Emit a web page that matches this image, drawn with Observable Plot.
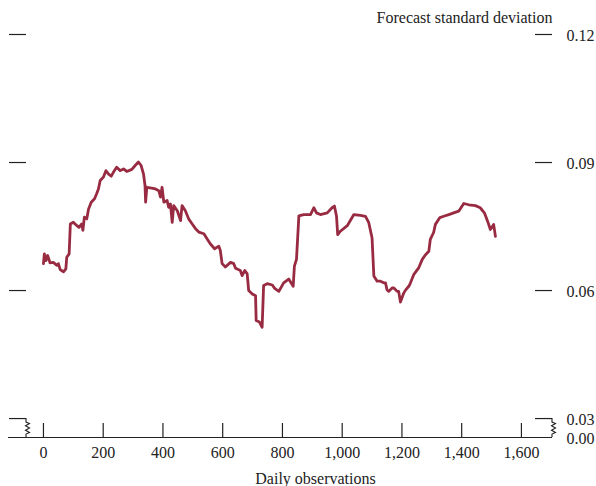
<!DOCTYPE html>
<html><head><meta charset="utf-8">
<script src="https://cdn.jsdelivr.net/npm/d3@7"></script>
<script src="https://cdn.jsdelivr.net/npm/@observablehq/plot@0.6"></script>
<style>body{margin:0;background:#fff} #chart svg{display:block}</style>
</head><body><div id="chart"></div>
<script>
const days = [0,3,8,14,22,33,45,50,56,67,75,78,86,90,100,112,119,128,132,137,145,151,160,171,178,184,190,201,209,218,227,234,245,257,268,279,296,307,318,327,335,340,342,346,362,375,386,392,397,403,414,419,425,431,436,448,459,464,475,486,498,509,520,537,548,559,573,587,592,598,609,626,637,643,659,665,674,682,687,699,710,712,723,732,737,749,766,774,788,804,821,836,840,847,855,871,894,905,914,927,950,966,974,981,985,994,1017,1039,1061,1078,1089,1100,1106,1117,1128,1139,1145,1150,1156,1167,1173,1184,1189,1195,1206,1212,1223,1228,1240,1256,1268,1279,1290,1295,1306,1312,1327,1340,1357,1373,1390,1407,1424,1446,1462,1476,1487,1496,1507,1513];
const sd = [0.0663,0.0686,0.067,0.0682,0.0665,0.0666,0.0659,0.0663,0.0649,0.0644,0.0651,0.0678,0.0686,0.0756,0.076,0.0752,0.0748,0.0756,0.0741,0.0772,0.0768,0.0791,0.0807,0.0815,0.0827,0.0838,0.0858,0.0866,0.0881,0.0873,0.0868,0.0877,0.0889,0.0881,0.0885,0.0879,0.0884,0.0893,0.0901,0.0893,0.0873,0.0846,0.0807,0.0842,0.084,0.0838,0.0834,0.0819,0.0842,0.0807,0.0811,0.0795,0.0803,0.076,0.0799,0.0787,0.0764,0.0799,0.0787,0.0768,0.0756,0.0745,0.0737,0.0733,0.0721,0.0709,0.0698,0.0704,0.0694,0.0663,0.0655,0.0666,0.0663,0.0652,0.0647,0.0635,0.0647,0.0639,0.06,0.0592,0.0588,0.053,0.0526,0.0514,0.0612,0.0616,0.0613,0.0605,0.0598,0.0618,0.0627,0.061,0.0657,0.0673,0.0775,0.0778,0.0778,0.0794,0.0782,0.0778,0.0782,0.0794,0.0798,0.0774,0.0731,0.0739,0.0752,0.0778,0.0776,0.0774,0.0759,0.0723,0.0634,0.0622,0.0622,0.0618,0.0618,0.0602,0.0598,0.0606,0.0606,0.0598,0.0598,0.0573,0.0594,0.0601,0.061,0.0617,0.0638,0.0653,0.0673,0.0684,0.0692,0.072,0.0736,0.0755,0.0771,0.0774,0.0778,0.0782,0.0786,0.0804,0.0801,0.0799,0.0794,0.0782,0.0762,0.0743,0.0755,0.0727];
const xTicks = [0,200,400,600,800,1000,1200,1400,1600];
const yTicks = [0.03,0.06,0.09,0.12];
const yLabels = [0,0.03,0.06,0.09,0.12];
const titleText = "Forecast standard deviation";
const xTitle = "Daily observations";

// broken y axis: the interval 0 .. 0.03 is squeezed into a short gap
const breakAt = 0.03, squeeze = 0.148;
const brk = v => v >= breakAt ? v : breakAt - (breakAt - v) * squeeze;

const data = days.map((d,i)=>({day:d, sd:sd[i]}));
const W=596, H=486, mL=8, mR=44, mT=34, mB=49;
const frameW = W-mL-mR, frameH = H-mT-mB;
const ink = "#222";
const font = "'Liberation Serif','Times New Roman',serif";

function breaks(index, scales) {
  const g = d3.create("svg:g").attr("fill","none").attr("stroke",ink).attr("stroke-width",1.1);
  const y0 = scales.y(brk(0)), y3 = scales.y(breakAt);
  const zig = (x) => {
    const m = (y0+y3)/2 + 0.5, p = d3.path();
    p.moveTo(x, y3); p.lineTo(x, m-6);
    p.lineTo(x+3.5, m-4.5); p.lineTo(x-0.5, m-2.2);
    p.lineTo(x+3.5, m); p.lineTo(x-0.5, m+2.2);
    p.lineTo(x+3.5, m+4.5); p.lineTo(x, m+6);
    p.lineTo(x, y0);
    return p.toString();
  };
  g.append("path").attr("d", zig(mL+18));
  g.append("path").attr("d", zig(W-mR));
  return g.node();
}

const chart = Plot.plot({
  width: W, height: H,
  marginLeft: mL, marginRight: mR, marginTop: mT, marginBottom: mB,
  style: {fontFamily: font, fontSize: "16px", color: ink, background: "#fff"},
  x: {domain: [-117, 1704], axis: null},
  y: {domain: [brk(0), 0.12], axis: null},
  marks: [
    Plot.ruleY([brk(0)], {stroke: ink, strokeWidth: 1.2}),
    Plot.tickX(xTicks, {x: d=>d, insetTop: frameH-14, stroke: ink, strokeWidth: 1.2}),
    Plot.ruleY(yTicks, {y: d=>brk(d), insetLeft: 1, insetRight: frameW-18, stroke: ink, strokeWidth: 1.2}),
    Plot.ruleY(yTicks, {y: d=>brk(d), insetLeft: frameW-17, stroke: ink, strokeWidth: 1.2}),
    breaks,
    Plot.text(yLabels, {y: d=>brk(d), text: d=>d.toFixed(2), frameAnchor: "right", dx: 14, dy: 1.5, textAnchor: "start", lineAnchor: "middle", fill: ink, fontSize: 16}),
    Plot.text(xTicks, {x: d=>d, text: d=>d3.format(",")(d), frameAnchor: "bottom", dy: 15, lineAnchor: "middle", fill: ink, fontSize: 16}),
    Plot.line(data, {x: "day", y: d=>brk(d.sd), stroke: "#982b41", strokeWidth: 2.8, strokeLinejoin: "round"}),
    Plot.text([titleText], {text: d=>d, frameAnchor: "top-right", dy: -17, textAnchor: "end", lineAnchor: "middle", fill: ink, fontSize: 16}),
    Plot.text([xTitle], {text: d=>d, frameAnchor: "bottom", dx: 35, dy: 41, lineAnchor: "middle", fill: ink, fontSize: 16})
  ]
});
document.getElementById("chart").appendChild(chart);
</script>
</body></html>
